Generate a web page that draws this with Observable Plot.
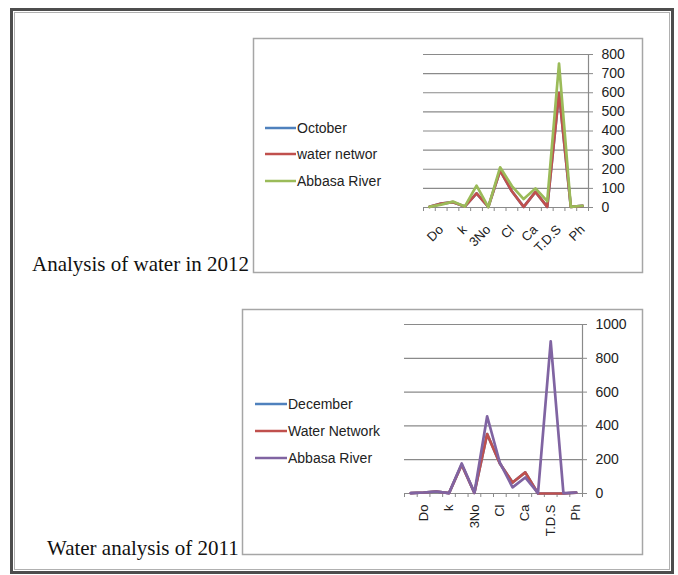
<!DOCTYPE html>
<html>
<head>
<meta charset="utf-8">
<script src="https://cdn.jsdelivr.net/npm/d3@7"></script>
<script src="https://cdn.jsdelivr.net/npm/@observablehq/plot@0.6"></script>
<style>
  html, body { margin: 0; padding: 0; background: #fff; }
  #page { position: relative; width: 678px; height: 575px; overflow: hidden; background: #fff; }
  #page > svg, #page > figure { position: absolute; margin: 0; }
  .plot { background: transparent !important; }
</style>
</head>
<body>
<div id="page"></div>
<script>
// ---- data ----
const categories = ["BOD", "Do", "COD", "k", "Na", "3No", "HCO3", "Cl", "Mg", "Ca", "SO4", "T.D.S", "Fe", "Ph"];
const labeledIdx = [1, 3, 5, 7, 9, 11, 13];

// 2012
const october2012 = [3, 20, 28, 5, 74, 3, 193, 85, 3, 82, 3, 600, 3, 8];
const network2012 = [3, 20, 28, 5, 74, 3, 193, 85, 3, 82, 3, 600, 3, 8];
const river2012   = [3, 15, 31, 5, 114, 2, 210, 112, 44, 100, 33, 753, 3, 9];
const series2012 = ["October", "water networ", "Abbasa River"];
const ticks2012 = [0, 100, 200, 300, 400, 500, 600, 700, 800];

// 2011
const december2011 = [2, 6, 12, 2, 170, 4, 352, 178, 65, 125, 0, 0, 0, 5];
const network2011  = [2, 6, 12, 2, 170, 4, 352, 178, 65, 125, 0, 0, 0, 5];
const river2011    = [2, 6, 12, 2, 178, 4, 457, 182, 36, 95, 2, 900, 2, 6];
const series2011 = ["December", "Water Network", "Abbasa River"];
const ticks2011 = [0, 200, 400, 600, 800, 1000];

const titles = ["Analysis of water in 2012", "Water analysis of 2011"];
const colors2012 = ["#4F81BD", "#C0504D", "#9BBB59"];
const colors2011 = ["#4F81BD", "#C0504D", "#8064A2"];

// ---- helpers ----
function rowsOf(names, arrays) {
  const rows = [];
  names.forEach((s, k) => arrays[k].forEach((v, i) => rows.push({ s, i, v })));
  return rows;
}
const boundaries = d3.range(-0.5, categories.length, 1);
const grid = "#8a8a8a";

function chart({ rows, names, colors, yTicks, yMax, width, height, ml, mr, mt, mb, rotate, xPad }) {
  return Plot.plot({
    width, height,
    marginLeft: ml, marginRight: mr, marginTop: mt, marginBottom: mb,
    style: { background: "transparent", fontFamily: "'Liberation Sans', Arial, sans-serif", color: "#222", overflow: "visible" },
    x: { domain: [-0.5, categories.length - 0.5], axis: null },
    y: { domain: [0, yMax], axis: null },
    color: { domain: names, range: colors },
    marks: [
      Plot.gridY(yTicks, { stroke: grid, strokeOpacity: 1, strokeWidth: 1.2 }),
      Plot.ruleX([categories.length - 0.5], { stroke: grid, strokeWidth: 1.2 }),
      Plot.ruleY([0], { stroke: grid, strokeWidth: 1.2 }),
      Plot.axisY({ anchor: "right", ticks: yTicks, tickFormat: d => String(d), tickSize: 4, tickPadding: 9, stroke: grid, fontSize: 14, label: null }),
      Plot.axisX({ ticks: boundaries, tickFormat: () => "", tickSize: 4, stroke: grid, label: null }),
      Plot.axisX({ ticks: labeledIdx, tickFormat: i => categories[i], tickSize: 0, tickPadding: xPad, tickRotate: rotate, fontSize: 13, label: null }),
      Plot.line(rows, { x: "i", y: "v", z: "s", stroke: "s", strokeWidth: 2.7, strokeLinejoin: "round" })
    ]
  });
}

const page = document.getElementById("page");
const NS = "http://www.w3.org/2000/svg";
const deco = document.createElementNS(NS, "svg");
deco.setAttribute("width", 678); deco.setAttribute("height", 575);
deco.style.left = "0px"; deco.style.top = "0px";
function el(tag, attrs, text) {
  const e = document.createElementNS(NS, tag);
  for (const k in attrs) e.setAttribute(k, attrs[k]);
  if (text != null) e.textContent = text;
  deco.appendChild(e);
  return e;
}
// outer frame
el("rect", { x: 11.5, y: 9.5, width: 661, height: 563, fill: "none", stroke: "#4d4d4d", "stroke-width": 3 });
el("rect", { x: 14.5, y: 12.5, width: 655, height: 557, fill: "none", stroke: "#b0b0b0", "stroke-width": 1 });
// chart boxes
el("rect", { x: 253.5, y: 38.5, width: 389, height: 234, fill: "#fff", stroke: "#a6a6a6", "stroke-width": 1.5 });
el("rect", { x: 242.5, y: 309.5, width: 400, height: 245, fill: "#fff", stroke: "#a6a6a6", "stroke-width": 1.5 });
// titles
el("text", { x: 32, y: 271, "font-family": "'Liberation Serif', 'Times New Roman', serif", "font-size": 21, fill: "#111" }, titles[0]);
el("text", { x: 47, y: 555, "font-family": "'Liberation Serif', 'Times New Roman', serif", "font-size": 21, fill: "#111" }, titles[1]);
// legends
function legend(names, colors, x0, x1, ys) {
  names.forEach((n, k) => {
    el("line", { x1: x0, x2: x1, y1: ys[k], y2: ys[k], stroke: colors[k], "stroke-width": 2.5 });
    el("text", { x: x1 + 1, y: ys[k], "dominant-baseline": "central", "font-family": "'Liberation Sans', Arial, sans-serif", "font-size": 14, fill: "#222" }, n);
  });
}
legend(series2012, colors2012, 265, 296, [128, 154, 181]);
legend(series2011, colors2011, 255, 287, [404, 431, 458]);
page.appendChild(deco);

const c1 = chart({
  rows: rowsOf(series2012, [october2012, network2012, river2012]),
  names: series2012, colors: colors2012, yTicks: ticks2012, yMax: 800,
  width: 389, height: 234, ml: 169, mr: 55, mt: 16, mb: 65, rotate: -45, xPad: 20
});
c1.style.left = "254px"; c1.style.top = "38px";
page.appendChild(c1);

const c2 = chart({
  rows: rowsOf(series2011, [december2011, network2011, river2011]),
  names: series2011, colors: colors2011, yTicks: ticks2011, yMax: 1000,
  width: 400, height: 245, ml: 161, mr: 61, mt: 15, mb: 61, rotate: -90, xPad: 11
});
c2.style.left = "243px"; c2.style.top = "309px";
page.appendChild(c2);
</script>
</body>
</html>
